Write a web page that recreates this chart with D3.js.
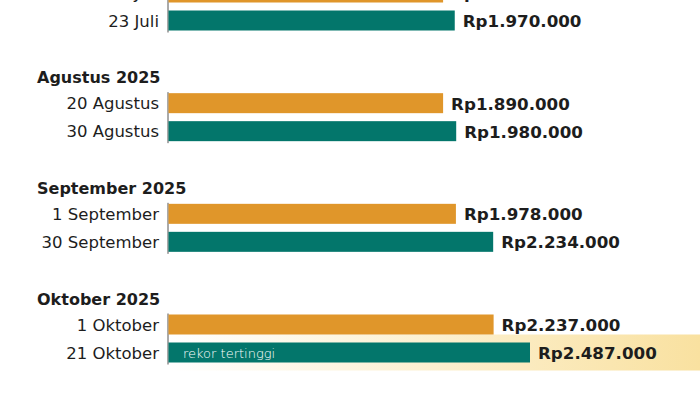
<!DOCTYPE html>
<html>
<head>
<meta charset="utf-8">
<script src="https://cdn.jsdelivr.net/npm/d3@7"></script>
<style>
  html, body { margin: 0; padding: 0; background: #fff; }
  svg { display: block; font-family: "DejaVu Sans", Lato, sans-serif; }
</style>
</head>
<body>
<svg id="chart" width="700" height="400"></svg>
<script>
const groups = ["Juli 2025", "Agustus 2025", "September 2025", "Oktober 2025"];
const firstDates = ["1 Juli", "20 Agustus", "1 September", "1 Oktober"];
const firstValues = [1890000, 1890000, 1978000, 2237000];
const secondDates = ["23 Juli", "30 Agustus", "30 September", "21 Oktober"];
const secondValues = [1970000, 1980000, 2234000, 2487000];
const recordNote = "rekor tertinggi";

const colors = { first: "#E0962A", second: "#03766B", text: "#1d1d1d", axis: "#555", band: "#F9E1A0" };

const svg = d3.select("#chart");
const W = 700;

const x = d3.scaleLinear().domain([0, d3.max(secondValues)]).range([168, 530]);
const gy = d3.scaleLinear().domain([0, groups.length - 1]).range([-33.5, 298.5]);
const barH = 20;
const fmt = v => "Rp" + d3.format(",")(v).replace(/,/g, ".");

// highlight band for record row
const maxIdx = secondValues.indexOf(d3.max(secondValues));
const defs = svg.append("defs");
const grad = defs.append("linearGradient").attr("id", "hl").attr("x1", "0").attr("x2", "1").attr("y1", "0").attr("y2", "0");
grad.append("stop").attr("offset", "0").attr("stop-color", colors.band).attr("stop-opacity", 0);
grad.append("stop").attr("offset", "0.35").attr("stop-color", colors.band).attr("stop-opacity", 0.35);
grad.append("stop").attr("offset", "1").attr("stop-color", colors.band).attr("stop-opacity", 1);
svg.append("rect")
  .attr("x", x(0)).attr("width", W - x(0))
  .attr("y", gy(maxIdx) + 54 - 18).attr("height", 36)
  .attr("fill", "url(#hl)");

const rows = [];
groups.forEach((g, i) => {
  rows.push({ gi: i, off: 26, date: firstDates[i], value: firstValues[i], color: colors.first, kind: "first" });
  rows.push({ gi: i, off: 54, date: secondDates[i], value: secondValues[i], color: colors.second, kind: "second" });
});

// group titles
svg.selectAll("text.title").data(groups).join("text")
  .attr("class", "title")
  .attr("x", 37).attr("y", (d, i) => gy(i) + 6)
  .attr("font-size", 16).attr("font-weight", 700).attr("fill", colors.text)
  .text(d => d);

// axis lines per group
svg.selectAll("line.axis").data(groups).join("line")
  .attr("class", "axis")
  .attr("x1", x(0)).attr("x2", x(0))
  .attr("y1", (d, i) => gy(i) + 15).attr("y2", (d, i) => gy(i) + 66)
  .attr("stroke", colors.axis).attr("stroke-width", 1);

// bars
svg.selectAll("rect.bar").data(rows).join("rect")
  .attr("class", "bar")
  .attr("x", x(0) + 0.5).attr("y", d => gy(d.gi) + d.off - barH / 2)
  .attr("width", d => x(d.value) - x(0) - 0.5).attr("height", barH)
  .attr("fill", d => d.color);

// date labels
svg.selectAll("text.date").data(rows).join("text")
  .attr("class", "date")
  .attr("x", 159).attr("y", d => gy(d.gi) + d.off + 6)
  .attr("text-anchor", "end")
  .attr("font-size", 16.5).attr("font-weight", 400).attr("fill", colors.text)
  .text(d => d.date);

// value labels
svg.selectAll("text.val").data(rows).join("text")
  .attr("class", "val")
  .attr("x", d => x(d.value) + 8).attr("y", d => gy(d.gi) + d.off + 6.5)
  .attr("font-size", 16.7).attr("font-weight", 700).attr("fill", colors.text)
  .text(d => fmt(d.value));

// record note
svg.append("text")
  .attr("x", x(0) + 15).attr("y", gy(maxIdx) + 54 + 5)
  .attr("font-size", 13).attr("font-weight", 300).attr("fill", "#fff")
  .text(recordNote);
</script>
</body>
</html>
